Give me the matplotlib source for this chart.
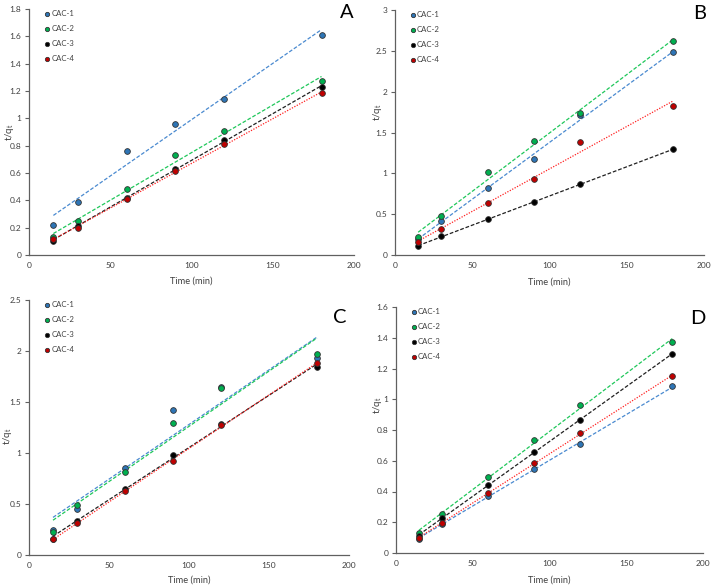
import numpy as np
import matplotlib
matplotlib.use("Agg")
import matplotlib.pyplot as plt
from matplotlib.ticker import FuncFormatter, MultipleLocator

plt.rcParams['font.family'] = ['Lato', 'DejaVu Sans']

time = [15, 30, 60, 90, 120, 180]
series_names = ["CAC-1", "CAC-2", "CAC-3", "CAC-4"]

# Panel A
A_cac1 = [0.217, 0.39, 0.761, 0.956, 1.139, 1.612]
A_cac2 = [0.129, 0.246, 0.483, 0.729, 0.905, 1.271]
A_cac3 = [0.105, 0.212, 0.42, 0.632, 0.839, 1.229]
A_cac4 = [0.117, 0.20, 0.41, 0.612, 0.81, 1.185]
# Panel B
B_cac1 = [0.20, 0.416, 0.823, 1.178, 1.712, 2.483]
B_cac2 = [0.216, 0.477, 1.011, 1.402, 1.741, 2.617]
B_cac3 = [0.11, 0.228, 0.44, 0.648, 0.864, 1.296]
B_cac4 = [0.155, 0.318, 0.632, 0.925, 1.378, 1.826]
# Panel C
C_cac1 = [0.245, 0.451, 0.853, 1.422, 1.65, 1.93]
C_cac2 = [0.229, 0.49, 0.814, 1.294, 1.637, 1.967]
C_cac3 = [0.16, 0.337, 0.647, 0.977, 1.281, 1.846]
C_cac4 = [0.157, 0.31, 0.624, 0.922, 1.271, 1.882]
# Panel D
D_cac1 = [0.093, 0.191, 0.373, 0.544, 0.709, 1.084]
D_cac2 = [0.13, 0.256, 0.496, 0.735, 0.96, 1.372]
D_cac3 = [0.113, 0.23, 0.444, 0.655, 0.865, 1.296]
D_cac4 = [0.10, 0.193, 0.392, 0.583, 0.78, 1.151]

panel_labels = ["A", "B", "C", "D"]
panel_data = [
    [A_cac1, A_cac2, A_cac3, A_cac4],
    [B_cac1, B_cac2, B_cac3, B_cac4],
    [C_cac1, C_cac2, C_cac3, C_cac4],
    [D_cac1, D_cac2, D_cac3, D_cac4],
]
y_max = [1.8, 3.0, 2.5, 1.6]
y_step = [0.2, 0.5, 0.5, 0.2]

marker_colors = ["#2E75B6", "#00B050", "#000000", "#C00000"]
line_colors = ["#4A8AD0", "#1FC75A", "#202020", "#FF2020"]
line_styles = [(0, (3, 1.5)), (0, (3, 1.5)), (0, (3, 1.5)), (0, (1, 1.2))]

W, H = 712, 588
# axes boxes in pixels: left, top, right, bottom
boxes_px = [(29, 9, 354, 255), (395, 10, 704, 255), (29, 300, 349, 555), (396, 307, 703, 553)]
ylabel_off = [-19, -17, -22, -18]
ylabel_frac = [0.5, 0.584, 0.467, 0.6]
xlabel_off = [26, 27, 25, 27]
letter_pos = [(354, 4), (706, 5), (347, 309), (706, 310)]

fig = plt.figure(figsize=(W / 100, H / 100), dpi=100)
axis_col = "#606060"
txt_col = "#404040"

for k in range(4):
    l, t, r, b = boxes_px[k]
    ax = fig.add_axes([l / W, 1 - b / H, (r - l) / W, (b - t) / H])
    wpx, hpx = r - l, b - t
    x = np.array(time, dtype=float)
    for i, ys in enumerate(panel_data[k]):
        ys = np.array(ys)
        ax.scatter(x, ys, s=17, color=marker_colors[i], edgecolors="#333333",
                   linewidths=0.6, zorder=3, label=series_names[i])
        m, c = np.polyfit(x, ys, 1)
        xl = np.array([x.min(), x.max()])
        ax.plot(xl, m * xl + c, color=line_colors[i], linestyle=line_styles[i],
                linewidth=0.9, zorder=2)
    ax.set_xlim(0, 200)
    ax.set_ylim(0, y_max[k])
    ax.xaxis.set_major_locator(MultipleLocator(50))
    ax.yaxis.set_major_locator(MultipleLocator(y_step[k]))
    ax.yaxis.set_major_formatter(FuncFormatter(lambda v, p: "%g" % round(v, 6)))
    for s in ["top", "right"]:
        ax.spines[s].set_visible(False)
    for s in ["left", "bottom"]:
        ax.spines[s].set_color(axis_col)
        ax.spines[s].set_linewidth(0.9)
    ax.tick_params(axis="y", labelsize=6, colors=axis_col, labelcolor=txt_col,
                   length=3, width=0.8, pad=2.5)
    ax.tick_params(axis="x", labelsize=6, colors=axis_col, labelcolor=txt_col,
                   length=0, width=0.8, pad=5)
    ax.set_xlabel("Time (min)", fontsize=6.7, color=txt_col, va="center")
    ax.xaxis.set_label_coords(0.5, -xlabel_off[k] / hpx)
    ax.set_ylabel("t/q$_\\mathregular{t}$", fontsize=7, color=txt_col, va="center")
    ax.yaxis.set_label_coords(ylabel_off[k] / wpx, ylabel_frac[k])
    lx, ly = letter_pos[k]
    fig.text(lx / W, 1 - ly / H, panel_labels[k], fontsize=14.5,
             ha="right", va="top", color="black")
    leg = ax.legend(loc="upper left", bbox_to_anchor=(0.03, 1.015), frameon=False,
                    fontsize=5.6, handletextpad=0.05, labelspacing=1.05,
                    markerscale=0.75, borderaxespad=0.2, handlelength=1.0)
    for tx in leg.get_texts():
        tx.set_color(txt_col)

fig.savefig("out.png", dpi=100)
